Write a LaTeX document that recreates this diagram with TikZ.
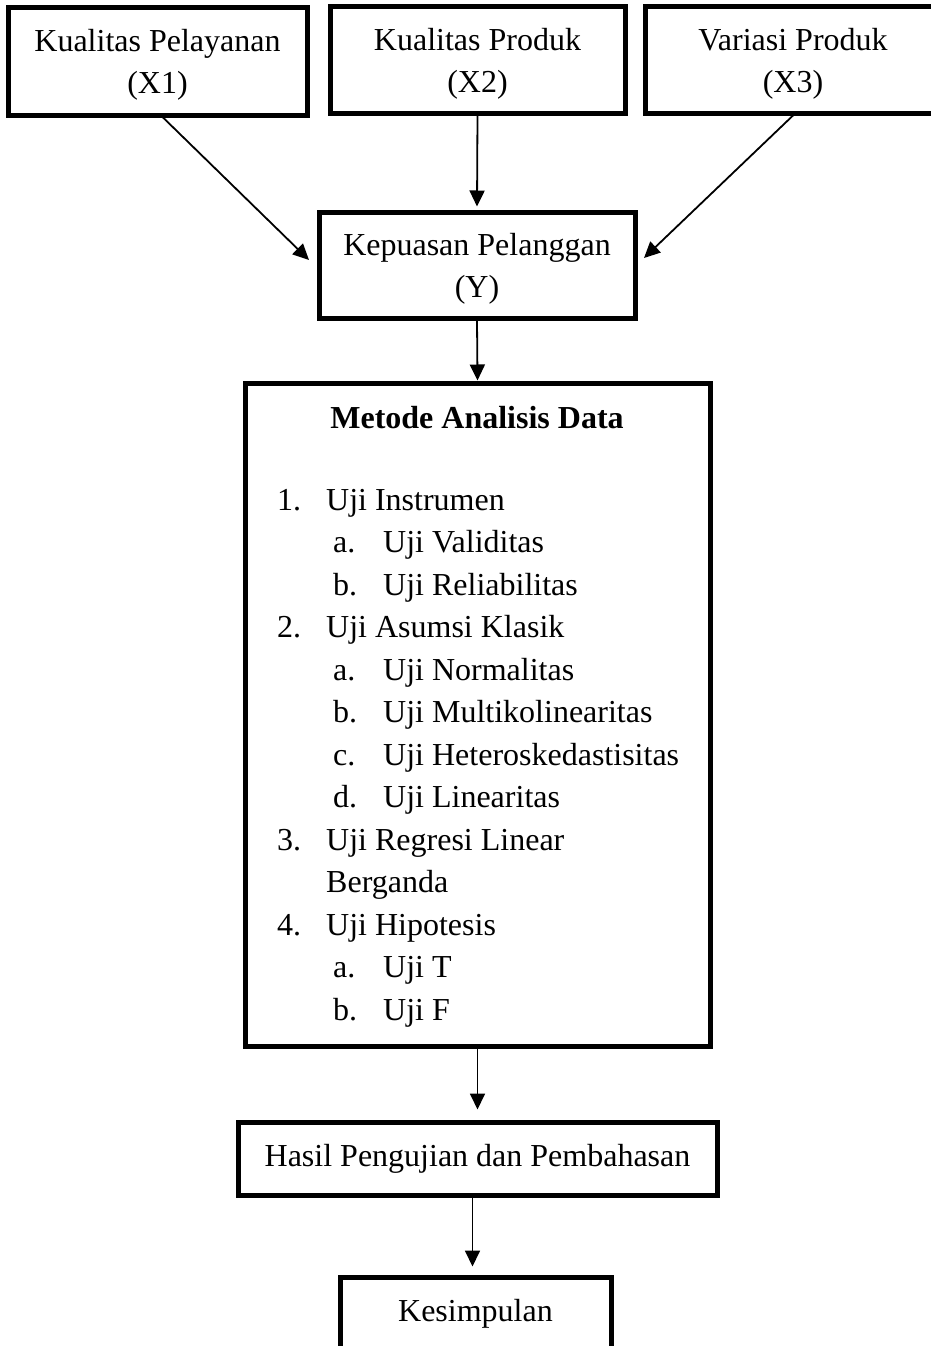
\documentclass[tikz,border=0pt]{standalone}
\usepackage{fontspec}
\setmainfont{Liberation Serif}
\usetikzlibrary{arrows.meta}

\begin{document}
\begin{tikzpicture}[x=1pt, y=-1pt, >={Triangle[length=16pt,width=15pt]},
    font=\fontsize{32}{42}\selectfont,
    box/.style={draw, line width=5pt, align=center, inner sep=0pt},
    twoline/.style={text depth=-3pt},
    arrow/.style={->, line width=1.8pt}]
    % Frame
    \useasboundingbox (0,0) rectangle (931,1346);
    \clip (0,0) rectangle (931,1346);

    % Variables
    \node[box, twoline, minimum width=299, minimum height=107] (x1) at (157.5,61.5) {Kualitas Pelayanan\\(X1)};
    \node[box, twoline, minimum width=295, minimum height=106] (x2) at (477.5,60) {Kualitas Produk\\(X2)};
    \node[box, twoline, minimum width=296, minimum height=106] (x3) at (793,60) {Variasi Produk\\(X3)};
    \node[box, twoline, minimum width=316, minimum height=106] (y) at (477,265) {Kepuasan Pelanggan\\(Y)};

    % Analysis method
    \node[box, minimum width=465, minimum height=663] (metode) at (477.5,714.5) {};
    \node[font=\fontsize{32}{42}\selectfont\bfseries] (judul) at (477,418) {Metode Analisis Data};
    \node[anchor=north west, align=left, inner sep=0pt,
          font=\fontsize{32}{42.5}\selectfont] (daftar) at (277,489) {%
        \makebox[49pt][l]{1.}Uji Instrumen\\
        \hspace*{56pt}\makebox[50pt][l]{a.}Uji Validitas\\
        \hspace*{56pt}\makebox[50pt][l]{b.}Uji Reliabilitas\\
        \makebox[49pt][l]{2.}Uji Asumsi Klasik\\
        \hspace*{56pt}\makebox[50pt][l]{a.}Uji Normalitas\\
        \hspace*{56pt}\makebox[50pt][l]{b.}Uji Multikolinearitas\\
        \hspace*{56pt}\makebox[50pt][l]{c.}Uji Heteroskedastisitas\\
        \hspace*{56pt}\makebox[50pt][l]{d.}Uji Linearitas\\
        \makebox[49pt][l]{3.}Uji Regresi Linear\\
        \hspace*{49pt}Berganda\\
        \makebox[49pt][l]{4.}Uji Hipotesis\\
        \hspace*{56pt}\makebox[50pt][l]{a.}Uji T\\
        \hspace*{56pt}\makebox[50pt][l]{b.}Uji F};

    % Results
    \node[box, minimum width=479, minimum height=73] (hasil) at (477.5,1158.5) {Hasil Pengujian dan Pembahasan};
    \node[box, minimum width=271, minimum height=73] (kesimpulan) at (475.5,1313.5) {Kesimpulan};

    % Arrows
    \draw[arrow] ([xshift=5.5pt]x1.south) -- ([xshift=-7.5pt,yshift=5pt]y.west);
    \draw[arrow] (x2.south) -- ([yshift=3pt]y.north);
    \draw[arrow] (x3.south) -- ([xshift=6.5pt,yshift=7pt]y.east);
    \draw[arrow] (y.south) -- (metode.north);
    \draw[arrow] (metode.south) -- ([yshift=10pt]hasil.north);
    \draw[arrow] ([xshift=-5pt]hasil.south) -- ([xshift=-3pt,yshift=8pt]kesimpulan.north);
\end{tikzpicture}
\end{document}
